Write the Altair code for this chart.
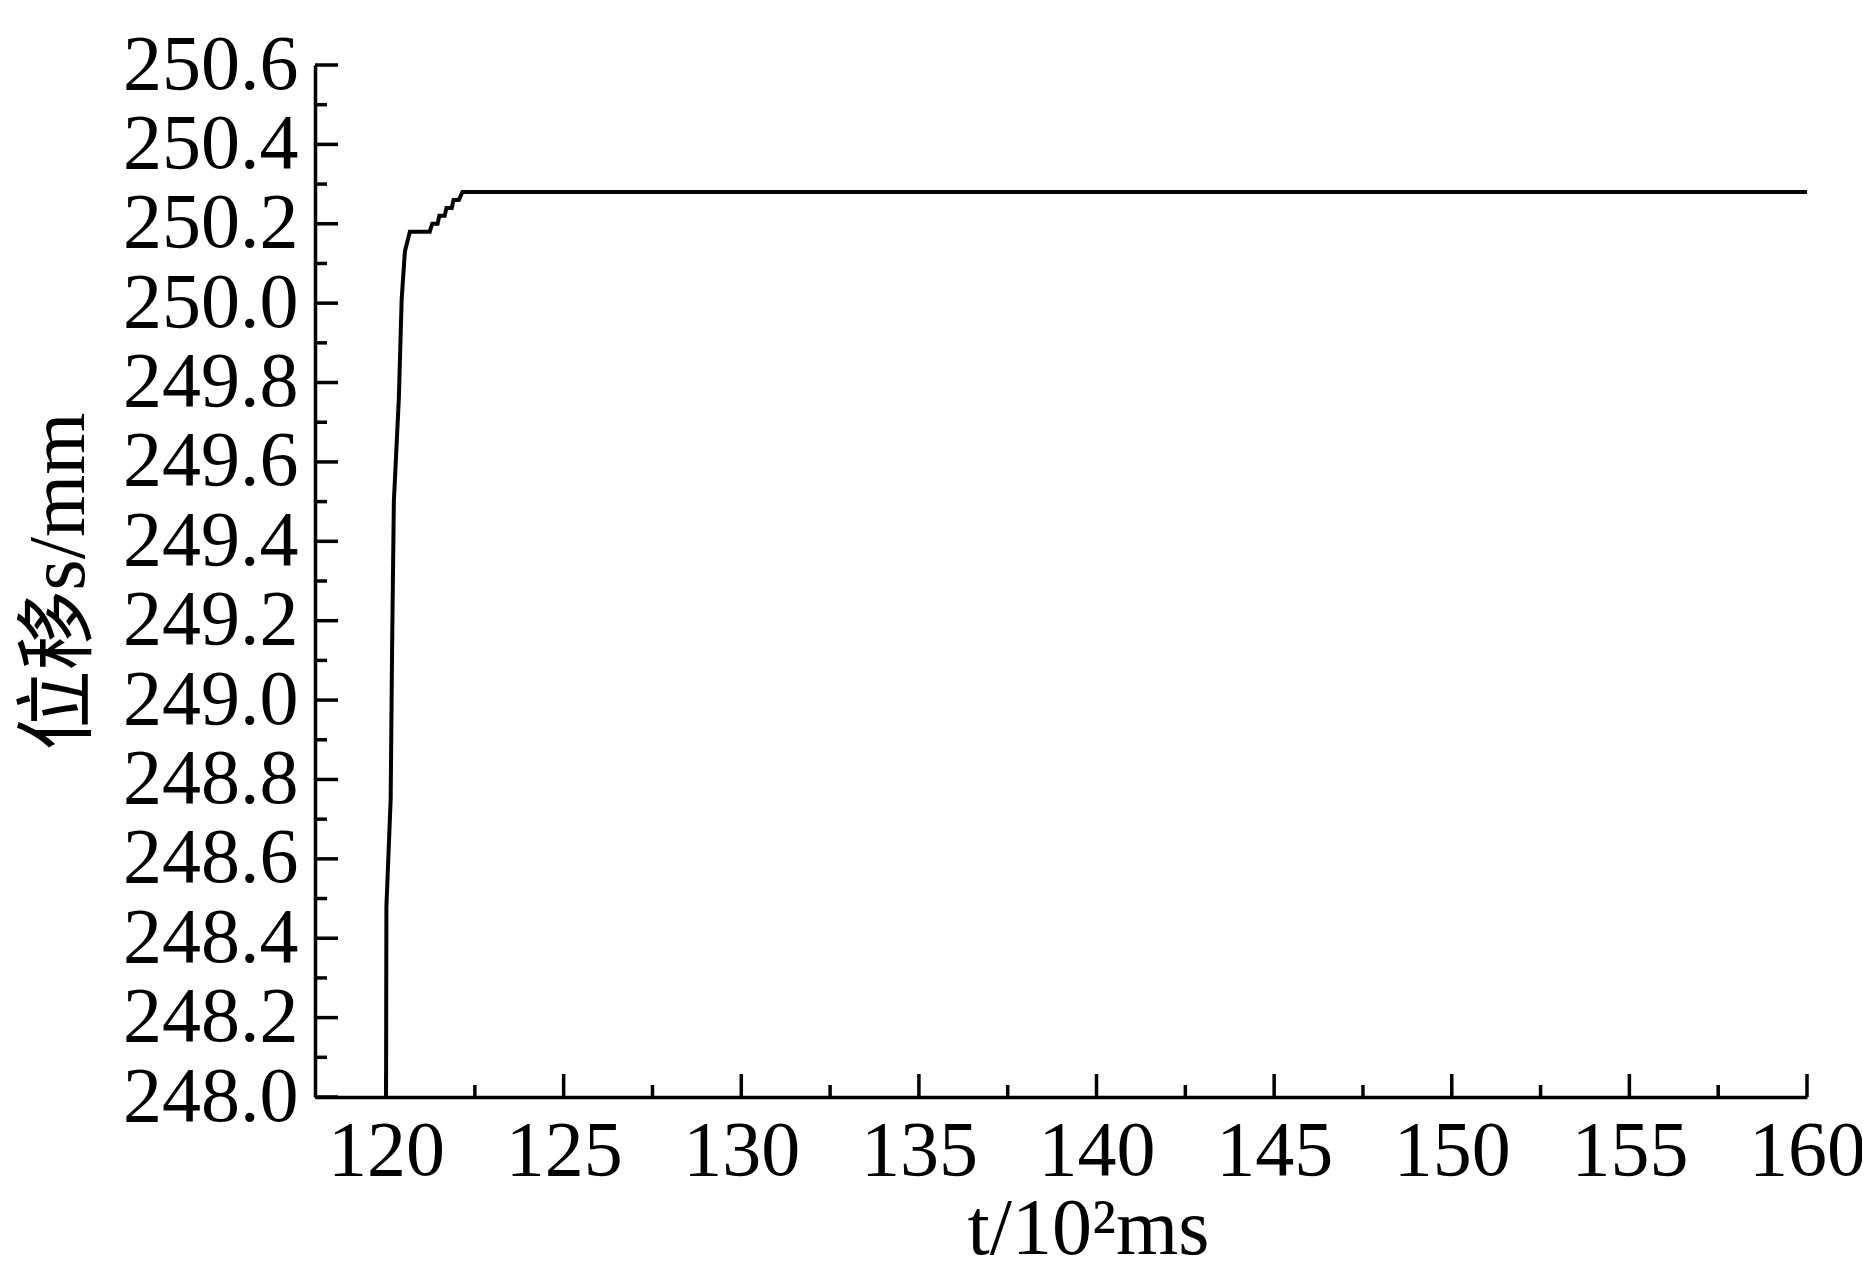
import altair as alt
import pandas as pd

# displacement curve (t in 10^2 ms, s in mm)
t_vals = [120.0, 120.01, 120.13, 120.17, 120.22, 120.36, 120.44, 120.53, 120.67,
          121.23, 121.3, 121.45, 121.5, 121.65, 121.7, 121.85, 121.9, 122.05, 122.15, 160.0]
s_vals = [248.0, 248.48, 248.75, 249.13, 249.50, 249.76, 250.01, 250.13, 250.18,
          250.18, 250.20, 250.20, 250.22, 250.22, 250.24, 250.24, 250.26, 250.26, 250.28, 250.28]

x_major = [120, 125, 130, 135, 140, 145, 150, 155, 160]
x_minor = [122.5, 127.5, 132.5, 137.5, 142.5, 147.5, 152.5, 157.5]
y_major = [248.0, 248.2, 248.4, 248.6, 248.8, 249.0, 249.2, 249.4, 249.6, 249.8,
           250.0, 250.2, 250.4, 250.6]
y_minor = [248.1, 248.3, 248.5, 248.7, 248.9, 249.1, 249.3, 249.5, 249.7, 249.9,
           250.1, 250.3, 250.5]

X_DOMAIN = [118, 160]
Y_DOMAIN = [248.0, 250.6]
W, H = 1492, 1032
FONT = "Times New Roman, Liberation Serif, serif"
X_TITLE = "t/10²ms"
Y_TITLE = "位移s/mm"

df = pd.DataFrame({"t": t_vals, "s": s_vals})
xs = alt.Scale(domain=X_DOMAIN, nice=False, zero=False)
ys = alt.Scale(domain=Y_DOMAIN, nice=False, zero=False)
x_axis = alt.Axis(values=x_major, format="d", labelFlush=False, labelOverlap=False)
y_axis = alt.Axis(values=y_major, format=".1f", labelFlush=False, labelOverlap=False)

line = alt.Chart(df).mark_line(color="black", strokeWidth=4, clip=True).encode(
    x=alt.X("t:Q", scale=xs, axis=x_axis, title=X_TITLE),
    y=alt.Y("s:Q", scale=ys, axis=y_axis, title=Y_TITLE),
)

def yticks(vals, length):
    d = pd.DataFrame({"v": vals})
    return alt.Chart(d).mark_rule(color="black", strokeWidth=3.5).encode(
        y=alt.Y("v:Q", scale=ys, axis=y_axis, title=Y_TITLE),
        x=alt.value(0), x2=alt.value(length))

def xticks(vals, length):
    d = pd.DataFrame({"v": vals})
    return alt.Chart(d).mark_rule(color="black", strokeWidth=3.5).encode(
        x=alt.X("v:Q", scale=xs, axis=x_axis, title=X_TITLE),
        y=alt.value(H), y2=alt.value(H - length))

chart = alt.layer(
    line,
    yticks(y_major, 23), yticks(y_minor, 12),
    xticks(x_major, 23), xticks(x_minor, 12),
).properties(
    width=W, height=H,
    autosize=alt.AutoSizeParams(type="none"),
    padding={"left": 307, "top": 57, "right": 55, "bottom": 178},
).configure_view(stroke=None).configure_axis(
    grid=False, ticks=False, tickSize=0,
    domainColor="black", domainWidth=3.5,
    labelFont=FONT, labelFontSize=78, labelColor="black",
    titleFont="Times New Roman, Liberation Serif, Noto Sans CJK SC, serif",
    titleFontSize=80, titleColor="black",
    titleFontWeight="normal",
).configure_axisX(
    labelPadding=15, titlePadding=0, titleX=773,
).configure_axisY(
    labelPadding=17, titlePadding=22,
)

chart.save("out.html", embed_options={"renderer": "svg", "actions": False})
